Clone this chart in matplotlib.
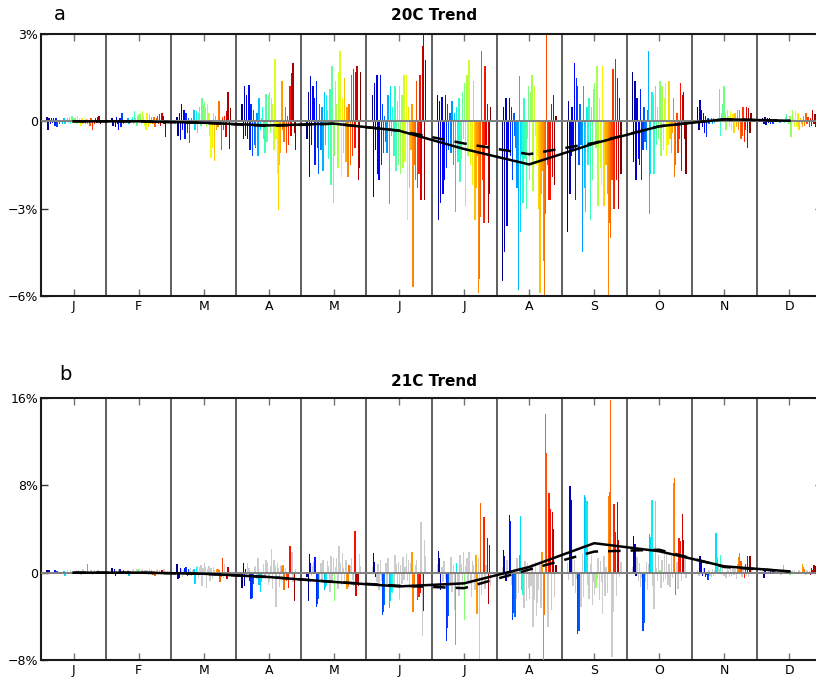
import numpy as np
import matplotlib
matplotlib.use("Agg")
import matplotlib.pyplot as plt

months = ["J", "F", "M", "A", "M", "J", "J", "A", "S", "O", "N", "D"]

# ---------------- Panel a: 20C trend (%), 48 bars per month ----------------
a_jan = [0.15, -0.3, 0.1, -0.1, 0.12, -0.05, 0.1, -0.15, 0.12, -0.2, 0.05, -0.1,
         0.0, 0.05, -0.1, 0.1, -0.1, 0.05, 0.1, -0.05, 0.15, -0.1, 0.2, -0.05,
         0.1, 0.15, -0.1, 0.2, -0.05, 0.1, -0.15, 0.1, -0.1, 0.05, -0.1, 0.08,
         -0.1, 0.05, -0.15, 0.1, -0.3, 0.05, -0.1, 0.1, -0.05, 0.15, 0.2, -0.1]
a_feb = [0.1, -0.15, 0.05, -0.2, 0.15, -0.1, -0.3, 0.1, -0.2, 0.3, -0.1, 0.05,
         0.05, -0.05, 0.1, -0.1, 0.05, 0.08, 0.15, -0.1, 0.35, 0.1, -0.15, 0.2,
         0.25, 0.3, -0.1, 0.35, 0.2, -0.15, -0.3, 0.3, -0.2, 0.25, -0.1, 0.15,
         -0.1, 0.15, -0.2, 0.1, 0.2, -0.1, 0.25, -0.15, 0.3, 0.2, -0.1, -0.55]
a_mar = [0.15, -0.5, 0.3, -0.65, 0.6, -0.3, 0.4, -0.6, 0.3, -0.4, 0.1, -0.75,
         0.05, 0.1, -0.1, 0.4, -0.3, 0.35, -0.4, 0.3, 0.5, -0.15, 0.8, 0.55,
         0.65, 0.5, -0.2, 0.6, 0.3, -0.5, -1.25, -0.9, 0.3, -1.35, 0.2, -0.3,
         -0.2, 0.7, -0.1, -1.0, 0.15, -0.3, 0.2, -0.55, 0.35, 1.0, -0.95, 0.45]
a_apr = [0.6, -0.6, 1.2, -0.5, 0.9, -0.6, 1.25, -1.0, 0.6, -1.2, 0.4, -0.8,
         -0.9, 0.3, -1.2, 0.8, -0.3, 0.1, 0.5, -0.6, -1.1, 0.95, -0.7, 0.9,
         1.0, -0.4, 0.8, 0.6, -1.0, 2.15, -0.6, -1.8, -3.05, -1.5, -1.1, 1.4,
         -0.3, -0.7, 0.5, -1.1, 0.2, -0.8, 1.2, -0.5, 1.65, 2.0, -0.4, -1.0]
a_may = [-0.6, 1.0, -1.9, 1.55, -0.8, 1.2, 0.8, -1.5, 1.4, -0.9, -1.8, 0.6,
         -1.0, 0.5, -1.7, 1.0, -0.8, 0.9, 0.4, -1.3, 1.1, -2.2, 1.9, -2.8,
         -1.2, 1.4, 0.6, -1.6, 1.7, 2.4, -1.9, 0.8, -1.1, 1.5, -1.4, 0.5,
         -1.9, 0.6, -1.5, 1.6, -1.2, 1.8, -0.9, 1.7, 1.9, -2.0, -1.6, 1.7]
a_jun = [0.9, -2.6, 1.3, -1.0, 1.6, -1.8, -2.0, 1.6, -1.5, 0.6, -1.1, 0.2,
         -0.7, -1.1, 0.9, -2.85, 1.2, -0.5, 0.5, -1.2, 1.2, -1.7, 0.7, -1.5,
         1.2, -1.8, 0.9, -1.6, 1.6, -1.4, 1.6, -3.4, 0.5, -2.3, -1.0, 0.6,
         -5.7, -1.5, -2.0, 1.4, -2.3, -1.8, 1.6, -2.7, 2.6, 3.0, -2.7, 2.1]
a_jul = [0.9, -3.4, 0.7, -2.8, 0.85, -2.5, -2.0, 0.9, -1.6, 0.6, -1.0, 0.3,
         -1.1, 0.7, -1.5, 0.3, -3.1, 0.5, -1.4, 0.8, -2.1, -1.3, 1.0, -0.6,
         1.3, -2.9, 1.6, -1.2, 2.1, -1.5, -1.0, -2.2, 1.4, -3.4, -2.3, -1.2,
         -5.9, -5.4, -3.3, 2.4, -2.0, -3.5, 1.9, -0.8, 0.6, -3.5, -2.5, 0.5]
a_aug = [-5.5, 0.5, -4.5, 0.8, -3.6, -1.0, 0.8, -1.2, 0.5, -2.0, 0.3, -0.5,
         -0.9, -2.3, -5.8, 1.55, -3.8, -1.2, -2.8, 0.8, -1.3, -3.0, -0.6, 1.2,
         -2.0, 1.0, 1.6, -2.4, 1.2, -0.5, -1.5, -1.2, -3.0, -5.9, -2.5, -1.7,
         -4.8, -6.0, -3.2, 3.0, -1.5, -2.7, -2.7, 0.6, -1.9, 0.9, -2.2, 0.2]
a_sep = [-3.8, 0.7, -2.5, -1.2, 0.5, -1.0, 2.0, -2.7, 1.5, 1.2, -1.5, 0.6,
         -0.8, -4.5, 1.2, -2.3, -3.1, 0.5, -1.5, 0.8, -3.4, 0.5, -2.0, 1.1,
         1.3, -0.9, 1.9, -2.9, 0.8, -1.6, -2.2, 1.9, -2.9, -0.8, -1.5, -2.5,
         -6.0, -3.5, -4.0, -2.0, 1.8, -3.0, 2.15, -2.0, 1.5, -3.0, 0.8, -1.8]
a_oct = [1.7, -1.4, 1.4, -2.0, 0.8, -1.3, -1.5, 1.1, -2.0, -1.0, 0.5, -0.7,
         -1.0, 0.4, 2.4, -3.2, -1.8, 1.0, 0.9, -1.8, 1.2, -0.8, 0.5, -0.6,
         1.4, -1.2, 1.2, -1.0, 0.8, 1.3, -1.2, -0.8, 1.4, -0.6, -1.1, -0.4,
         0.8, -1.9, -1.5, 0.3, -1.1, -0.6, 1.3, -1.7, 0.9, 1.0, -0.6, -1.8]
a_nov = [0.5, -0.3, 0.75, 0.4, -0.2, 0.3, -0.4, 0.2, -0.55, 0.1, -0.1, 0.05,
         0.1, -0.1, 0.1, -0.05, 0.05, 0.0, 0.1, 1.1, -0.5, 0.3, 0.6, 1.2,
         0.3, -0.3, 0.4, 0.2, -0.2, 0.35, -0.3, 0.25, -0.4, 0.3, -0.2, 0.4,
         -0.3, 0.4, -0.6, -0.5, 0.5, -0.7, -0.3, 0.5, -0.9, 0.45, -0.4, 0.3]
a_dec = [0.1, -0.1, 0.15, -0.12, 0.1, -0.05, 0.1, -0.1, 0.05, -0.1, 0.05, 0.0,
         0.0, 0.05, 0.0, -0.05, 0.05, 0.0, 0.05, -0.05, 0.15, 0.25, 0.0, -0.1,
         0.2, -0.55, 0.4, 0.1, -0.2, 0.35, -0.2, 0.3, -0.3, 0.1, -0.1, -0.2,
         0.2, -0.15, 0.3, -0.1, 0.15, -0.2, 0.1, -0.15, 0.4, -0.1, 0.25, -0.2]

a_trend_solid = [0.0, 0.0, -0.05, -0.14, -0.08, -0.32, -0.95, -1.48, -0.76, -0.17, 0.07, 0.02]
a_trend_dashed = [0.0, 0.0, -0.05, -0.16, -0.08, -0.32, -0.76, -1.13, -0.74, -0.17, 0.07, 0.02]

# ---------------- Panel b: 21C trend (%), 48 bars per month ----------------
b_jan = [0.25, -0.15, 0.2, 0.1, -0.1, 0.05, 0.1, 0.2, -0.1, 0.15, 0.1, -0.05,
         0.05, 0.1, -0.1, 0.15, -0.3, 0.1, 0.2, -0.1, 0.1, 0.2, -0.15, 0.1,
         0.05, 0.1, 0.2, -0.1, 0.25, 0.1, -0.2, 0.1, 0.3, -0.1, 0.15, 0.1,
         0.75, 0.1, -0.05, 0.2, -0.2, 0.1, 0.25, -0.1, 0.1, 0.2, 0.05, 0.1]
b_feb = [0.4, -0.1, 0.3, -0.35, 0.2, 0.1, 0.3, 0.35, 0.1, -0.1, 0.2, 0.1,
         0.1, -0.1, 0.2, -0.3, 0.1, 0.05, 0.2, 0.3, -0.1, 0.15, 0.3, 0.2,
         0.3, 0.1, 0.25, 0.3, -0.15, 0.2, 0.1, 0.2, -0.2, 0.3, 0.1, 0.2,
         -0.2, 0.15, -0.3, 0.2, 0.35, -0.1, 0.2, -0.1, 0.25, 0.1, 0.3, -0.1]
b_mar = [0.8, -0.6, -0.5, 0.4, 0.3, -0.4, 0.2, 0.4, 0.5, -0.3, 0.3, 0.2,
         0.4, -0.3, 0.2, 0.3, -1.0, 0.5, 0.6, -0.5, 0.5, 0.7, -1.2, 0.4,
         0.9, 0.5, -1.4, 0.3, 0.6, -0.8, 0.4, -0.6, 0.5, 0.2, -0.3, 0.3,
         0.3, 0.2, -0.9, -0.4, 1.3, -0.5, 0.8, -0.3, -0.6, 0.5, 0.2, 0.1]
b_apr = [-1.4, 0.9, -1.2, 0.3, -0.5, 0.9, 0.4, -0.8, -2.4, -2.3, -1.0, 0.5,
         0.6, -0.6, 1.3, -1.1, -1.8, -0.9, -0.6, 0.8, -0.4, 1.2, 0.9, -1.1,
         -0.9, 0.6, 2.2, -1.5, 1.2, 0.6, -3.1, 0.9, 0.4, -1.3, 0.7, 0.6,
         0.7, -1.6, 0.4, -0.8, -0.5, -1.4, 2.4, 0.5, 1.9, -0.9, -2.6, 0.3]
b_may = [-0.4, -2.6, 1.7, 0.9, -0.3, 0.6, 1.0, 1.4, -3.1, -2.9, -2.4, -0.6,
         0.9, -0.7, 1.2, -1.6, -1.4, -1.2, 1.1, 0.6, -1.8, 1.5, -0.9, 1.3,
         -2.6, 0.5, 1.3, -1.5, 2.4, 0.9, -1.1, 1.8, 0.4, -0.8, 1.2, -1.5,
         -1.3, 0.7, 0.6, 1.3, -0.7, -1.2, 3.8, -2.1, -1.1, -1.2, 1.7, 0.6]
b_jun = [0.5, 1.8, 1.0, -0.4, -0.9, 0.8, -1.6, 1.2, -0.8, -3.9, -3.6, -3.0,
         0.9, -1.2, 1.3, -3.2, -2.6, -1.8, -1.9, -1.1, 1.6, 0.8, -1.3, 1.0,
         -2.5, 0.7, -1.0, 1.4, -0.7, 0.5, 1.7, -0.8, 1.2, -1.5, 0.9, 1.9,
         -3.6, -1.4, 0.7, 1.2, -2.5, -2.2, -1.9, 4.6, -5.8, -3.5, 3.0, 1.5]
b_jul = [0.8, 2.0, 1.3, -1.6, 0.5, -0.9, 1.1, -0.6, -6.3, -5.1, -4.0, -1.2,
         1.4, -1.8, 0.7, -3.4, -6.6, 0.9, -1.2, -2.1, 1.6, 0.8, -1.5, 1.9,
         -4.3, 0.6, 1.3, -0.8, 1.9, -1.0, -2.2, 1.1, 0.7, -1.6, 1.6, -3.8,
         1.3, -7.9, 6.4, -2.0, -1.1, 5.1, -1.5, 0.7, 3.2, -2.9, 2.5, -1.2]
b_aug = [0.5, 2.1, 1.5, -0.8, 1.2, -0.5, 5.3, 4.7, -1.1, -4.3, -3.7, -4.1,
         -2.4, 1.3, -1.9, 1.6, 5.2, -1.6, -2.0, -3.2, 1.1, -2.6, 0.9, -1.4,
         -2.4, -1.2, 0.8, -5.0, -2.5, 1.0, -4.0, -2.8, -1.6, 0.7, -3.2, 1.9,
         -8.0, -3.9, 14.5, 11.0, -5.0, 7.3, 5.8, -3.4, 5.6, 4.0, -2.2, 0.7]
b_sep = [0.9, -0.7, 7.9, 6.7, 1.4, -1.2, 1.2, -1.9, -0.6, -5.6, -5.3, -2.4,
         -3.1, 1.8, -2.2, 7.1, 6.9, 6.6, -1.1, -2.4, 0.8, 1.6, -3.0, -0.9,
         -2.0, -1.4, -0.6, 1.3, -2.5, 1.1, -0.9, -3.8, 1.5, -2.1, 0.5, -1.9,
         7.0, 7.4, 15.8, -7.7, -3.6, 6.3, 3.7, -2.1, 6.5, 3.0, -0.4, 1.0]
b_oct = [0.5, 3.4, 2.6, -0.3, 1.4, -0.8, 0.9, -1.3, -0.5, -5.3, -4.6, -0.9,
         1.0, -1.6, 0.8, 3.5, 3.3, 6.7, -1.2, -3.3, 6.6, 0.4, -0.8, 1.6,
         0.2, -1.4, 1.2, -0.9, 1.7, -0.6, 1.9, -1.1, 0.8, -1.3, 1.5, -0.5,
         8.2, 8.7, -2.0, 1.0, -1.5, 3.2, 2.9, -0.8, 5.4, 3.0, 1.6, -0.5]
b_nov = [0.2, -0.3, 1.5, 1.1, -0.3, 0.4, 0.4, -0.4, -0.2, -0.7, 0.2, -0.3,
         -0.4, 0.3, -0.3, 0.2, 3.6, 1.4, 0.5, 0.3, 1.6, -0.2, 0.4, -0.3,
         0.1, -0.5, 0.3, 0.2, -0.4, 0.3, -0.3, 0.5, -0.2, 0.3, -0.6, 0.8,
         1.4, 1.8, 1.1, -0.4, 0.3, -0.5, 0.8, -0.3, 1.5, -0.4, 1.5, 0.3]
b_dec = [0.2, -0.5, 0.3, 0.1, -0.1, 0.2, 0.1, 0.2, -0.1, 0.2, 0.1, -0.1,
         0.1, -0.1, 0.15, 0.2, -0.2, 0.1, 0.7, 0.2, -0.1, 0.15, 0.2, 0.1,
         -0.2, 0.15, 0.2, -0.1, 0.25, 0.1, 0.1, -0.15, 0.2, 0.1, -0.1, 0.8,
         0.5, 0.3, -0.2, 0.2, -0.1, 0.15, -0.2, 0.4, 0.2, 0.7, -0.1, 0.6]

# significance (1 = coloured, 0 = grey), 8 groups of 6 bars
b_jan_sig = "111100 011110 000111 000000 110000 000001 100000 000000"
b_feb_sig = "111100 011110 000111 000000 110000 000001 111000 001100"
b_mar_sig = "111100 011110 000111 000000 010000 000001 111110 001100"
b_apr_sig = "111100 011110 000111 000000 100000 000001 110111 100010"
b_may_sig = "111100 011110 000111 000000 100000 000001 110000 111100"
b_jun_sig = "011100 000111 000111 100000 100000 000001 110011 100100"
b_jul_sig = "011100 001110 000011 000000 100000 000011 001001 001110"
b_aug_sig = "011100 110111 000111 100000 100000 000001 111101 101101"
b_sep_sig = "001100 000110 000111 000000 010000 000000 111001 101100"
b_oct_sig = "011100 000110 000111 001000 100000 000000 111001 101100"
b_nov_sig = "001110 111100 000011 001000 100000 000001 111001 101010"
b_dec_sig = "011110 011110 000000 100000 100000 000001 110000 111111"

b_trend_solid = [0.0, 0.0, -0.1, -0.4, -0.85, -1.26, -0.98, 0.52, 2.7, 1.96, 0.58, 0.12]
b_trend_dashed = [0.0, 0.0, -0.1, -0.4, -0.85, -1.2, -1.42, 0.28, 1.93, 2.1, 0.52, 0.12]

a_vals = [a_jan, a_feb, a_mar, a_apr, a_may, a_jun, a_jul, a_aug, a_sep, a_oct, a_nov, a_dec]
b_vals = [b_jan, b_feb, b_mar, b_apr, b_may, b_jun, b_jul, b_aug, b_sep, b_oct, b_nov, b_dec]
b_sigs = [b_jan_sig, b_feb_sig, b_mar_sig, b_apr_sig, b_may_sig, b_jun_sig,
          b_jul_sig, b_aug_sig, b_sep_sig, b_oct_sig, b_nov_sig, b_dec_sig]

W, H = 816, 679
fig = plt.figure(figsize=(W / 100, H / 100), dpi=100)
plt.rcParams['font.family'] = ['DejaVu Sans']

left = 41 / W
width = 781 / W


def make_ax(top_px, bot_px):
    return fig.add_axes([left, 1 - bot_px / H, width, (bot_px - top_px) / H])


def draw(ax, vals_list, sigs, solid, dashed, ylim, yticks, ylabels):
    n = 48
    span = 0.82
    offs = 0.09 + np.arange(n) * (span / (n - 1))
    w = span / (n - 1) * 1.25
    cols = plt.get_cmap('jet')(np.linspace(0, 1, n))
    for m, vals in enumerate(vals_list):
        x = m + offs
        v = np.asarray(vals, dtype=float)
        if sigs is None:
            ax.bar(x, v, width=w, color=cols, linewidth=0, zorder=2, antialiased=False)
        else:
            mk = np.array([c == '1' for c in sigs[m].replace(' ', '')])
            ax.bar(x[~mk], v[~mk], width=w, color=(0.8, 0.8, 0.8), linewidth=0,
                   zorder=2, antialiased=False)
            ax.bar(x[mk], v[mk], width=w, color=cols[mk], linewidth=0, zorder=3,
                   antialiased=False)
    for m in range(1, 12):
        ax.axvline(m, color='0.2', lw=1.1, zorder=1)
    ax.axhline(0, color='0.5', lw=1.4, zorder=3.5)
    centers = np.arange(12) + 0.5
    ax.plot(centers, solid, color='k', lw=1.8, zorder=6)
    ax.plot(centers, dashed, color='k', lw=1.8, dashes=(5, 4), zorder=6)
    ax.set_xlim(0, 12)
    ax.set_ylim(*ylim)
    ax.set_xticks(centers)
    ax.set_xticklabels(months, fontsize=9)
    ax.set_yticks(yticks)
    ax.set_yticklabels(ylabels, fontsize=9)
    ax.tick_params(axis='x', direction='in', top=True, bottom=True, length=5,
                   color='0.45', width=1, pad=3)
    ax.tick_params(axis='y', direction='in', left=True, right=True, length=5,
                   color='0.2', width=1, pad=2)
    for s in ax.spines.values():
        s.set_linewidth(1.5)
        s.set_color('0.1')


axa = make_ax(34, 296)
draw(axa, a_vals, None, a_trend_solid, a_trend_dashed, (-6, 3),
     [3, 0, -3, -6], ["3%", "0", "\u22123%", "\u22126%"])
axb = make_ax(398, 660)
draw(axb, b_vals, b_sigs, b_trend_solid, b_trend_dashed, (-8, 16),
     [16, 8, 0, -8], ["16%", "8%", "0", "\u22128%"])

fig.text(60 / W, 1 - 14 / H, "a", fontsize=14, ha='center', va='center')
fig.text(65 / W, 1 - 374 / H, "b", fontsize=14, ha='center', va='center')
fig.text(434 / W, 1 - 16 / H, "20C Trend", fontsize=11, fontweight='bold',
         ha='center', va='center')
fig.text(434 / W, 1 - 381 / H, "21C Trend", fontsize=11, fontweight='bold',
         ha='center', va='center')

fig.savefig("out.png", dpi=100)
